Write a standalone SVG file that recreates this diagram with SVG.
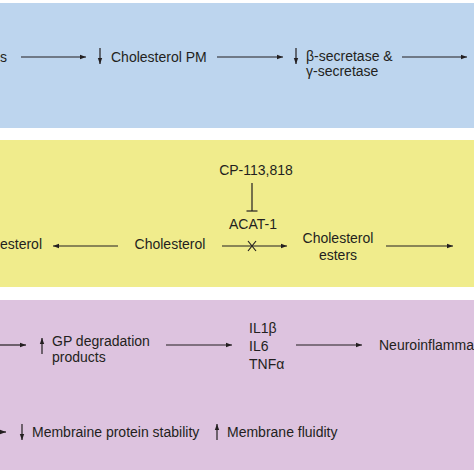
<svg xmlns="http://www.w3.org/2000/svg" width="474" height="474" viewBox="0 0 474 474">
<defs>
<marker id="ah" markerUnits="userSpaceOnUse" markerWidth="8" markerHeight="6" refX="6" refY="3" orient="auto">
<path d="M0,0.8 L6,3 L0,5.2 Z" fill="#231f20"/>
</marker>
<style>
text{font-family:"Liberation Sans",Arial,sans-serif;font-size:14px;fill:#231f20}
.c{stroke:#231f20;stroke-width:1.2;fill:none}
.a{marker-end:url(#ah)}
</style>
</defs>
<rect width="474" height="474" fill="#ffffff"/>
<g id="panel-blue"><rect x="0" y="3" width="474" height="125" fill="#bdd5ee"/></g>
<g id="panel-yellow"><rect x="0" y="140" width="474" height="147" fill="#f0ec8c"/></g>
<g id="panel-purple"><rect x="0" y="300" width="474" height="170" fill="#ddc3df"/></g>

<g id="connectors">
<line class="c a" x1="21" y1="57" x2="86" y2="57"/>
<line class="c a" x1="217" y1="57" x2="283" y2="57"/>
<line class="c a" x1="402" y1="57" x2="467" y2="57"/>
<line class="c a" x1="100" y1="48" x2="100" y2="64"/>
<line class="c a" x1="296" y1="48" x2="296" y2="64"/>

<line class="c a" x1="118" y1="246" x2="53" y2="246"/>
<line class="c a" x1="222" y1="246" x2="287" y2="246"/>
<line class="c a" x1="386" y1="246" x2="453" y2="246"/>
<line class="c" x1="252" y1="183" x2="252" y2="211"/>
<line class="c" x1="246.5" y1="211" x2="257.5" y2="211"/>
<path class="c" d="M248,241 L256,251 M256,241 L248,251"/>

<line class="c a" x1="0" y1="345" x2="26" y2="345"/>
<line class="c a" x1="166" y1="345" x2="232" y2="345"/>
<line class="c a" x1="296" y1="345" x2="362" y2="345"/>
<line class="c a" x1="42" y1="354" x2="42" y2="338"/>
<line class="c a" x1="-4" y1="432" x2="6" y2="432"/>
<line class="c a" x1="22" y1="424" x2="22" y2="440"/>
<line class="c a" x1="217" y1="440" x2="217" y2="424"/>
</g>

<g id="n-blue-left"><text x="0" y="62">s</text></g>
<g id="n-cholesterol-pm"><text x="111" y="62">Cholesterol PM</text></g>
<g id="n-secretase"><text x="306" y="61">β-secretase &amp;</text><text x="306" y="76">γ-secretase</text></g>

<g id="n-cp"><text x="256" y="175" text-anchor="middle">CP-113,818</text></g>
<g id="n-acat"><text x="253" y="229" text-anchor="middle">ACAT-1</text></g>
<g id="n-yellow-left"><text x="0" y="249">esterol</text></g>
<g id="n-cholesterol"><text x="170" y="249" text-anchor="middle">Cholesterol</text></g>
<g id="n-esters"><text x="338" y="243" text-anchor="middle">Cholesterol</text><text x="338" y="260" text-anchor="middle">esters</text></g>

<g id="n-gp"><text x="52" y="346">GP degradation</text><text x="52" y="362">products</text></g>
<g id="n-cytokines"><text x="249" y="333">IL1β</text><text x="249" y="351">IL6</text><text x="249" y="369">TNFα</text></g>
<g id="n-neuro"><text x="379" y="350">Neuroinflamma</text></g>
<g id="n-membrane"><text x="32" y="437">Membraine protein stability</text><text x="227" y="437">Membrane fluidity</text></g>
</svg>
